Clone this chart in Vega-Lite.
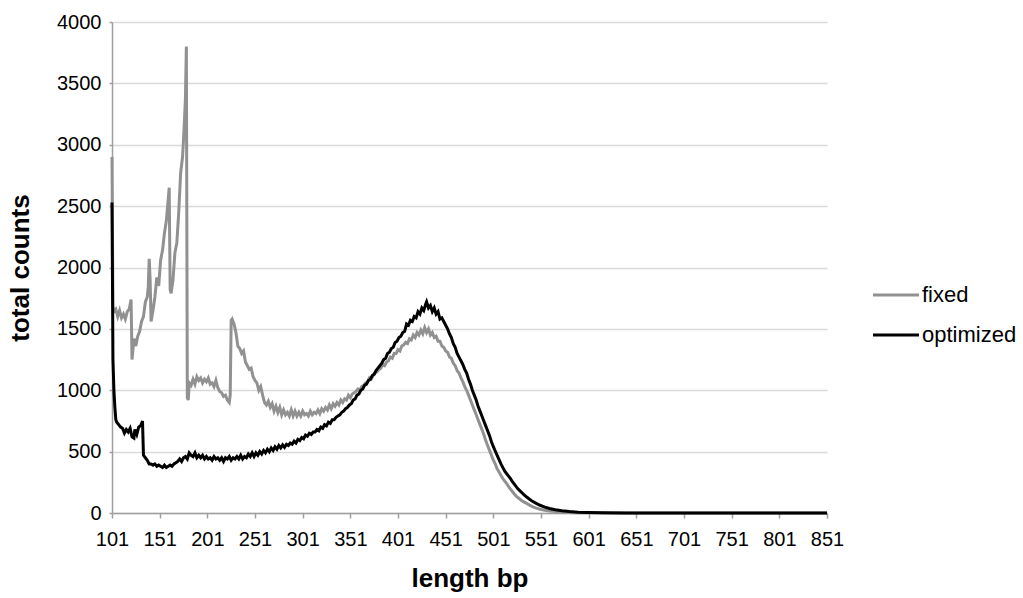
{
  "$schema": "https://vega.github.io/schema/vega-lite/v6.json",
  "width": 715,
  "height": 491,
  "autosize": "none",
  "padding": {"left": 112, "top": 22, "right": 196, "bottom": 85},
  "background": "white",
  "config": {
    "view": {"stroke": null},
    "font": "Liberation Sans",
    "axis": {"labelFont": "Liberation Sans", "titleFont": "Liberation Sans", "labelColor": "#000000", "titleColor": "#000000", "labelFontSize": 20, "titleFontSize": 26, "titleFontWeight": "bold", "domainColor": "#9e9e9e", "domainWidth": 1.5, "tickColor": "#9e9e9e", "tickWidth": 1.5, "gridColor": "#d9d9d9", "gridWidth": 1.5, "labelFlush": false, "labelOverlap": false, "labelBound": false},
    "legend": {"labelFont": "Liberation Sans", "labelFontSize": 22, "labelColor": "#000000"}
  },
  "datasets": {
    "fixed": [
      {"x":101,"y":2900},{"x":102,"y":1690},{"x":103,"y":1640},{"x":105,"y":1660},{"x":107,"y":1600},{"x":109,"y":1650},{"x":111,"y":1590},{"x":113,"y":1620},{"x":115,"y":1580},{"x":117,"y":1640},{"x":119,"y":1660},{"x":121,"y":1740},{"x":122,"y":1250},{"x":124,"y":1420},{"x":126,"y":1360},{"x":128,"y":1440},{"x":130,"y":1480},{"x":132,"y":1560},{"x":134,"y":1600},{"x":136,"y":1720},{"x":138,"y":1760},{"x":139,"y":1840},{"x":140,"y":2070},{"x":141,"y":1900},{"x":142,"y":1560},{"x":144,"y":1650},{"x":146,"y":1760},{"x":148,"y":1920},{"x":150,"y":1850},{"x":152,"y":2060},{"x":154,"y":2140},{"x":156,"y":2280},{"x":158,"y":2380},{"x":160,"y":2560},{"x":161,"y":2650},{"x":162,"y":1820},{"x":163,"y":1790},{"x":165,"y":1900},{"x":167,"y":2120},{"x":169,"y":2200},{"x":171,"y":2450},{"x":173,"y":2770},{"x":175,"y":2900},{"x":176,"y":3040},{"x":177,"y":3200},{"x":178,"y":3370},{"x":179,"y":3800},{"x":180,"y":940},{"x":181,"y":920},{"x":182,"y":1060},{"x":184,"y":1040},{"x":186,"y":1090},{"x":188,"y":1050},{"x":190,"y":1110},{"x":192,"y":1080},{"x":194,"y":1100},{"x":196,"y":1060},{"x":198,"y":1090},{"x":200,"y":1070},{"x":202,"y":1100},{"x":204,"y":1050},{"x":206,"y":1060},{"x":208,"y":1030},{"x":210,"y":1080},{"x":212,"y":1020},{"x":214,"y":990},{"x":216,"y":980},{"x":218,"y":950},{"x":220,"y":960},{"x":222,"y":920},{"x":224,"y":900},{"x":225,"y":960},{"x":226,"y":1570},{"x":227,"y":1580},{"x":229,"y":1540},{"x":231,"y":1470},{"x":233,"y":1360},{"x":235,"y":1340},{"x":237,"y":1300},{"x":239,"y":1320},{"x":241,"y":1230},{"x":243,"y":1200},{"x":245,"y":1170},{"x":247,"y":1180},{"x":249,"y":1110},{"x":251,"y":1080},{"x":253,"y":1060},{"x":255,"y":1000},{"x":257,"y":1030},{"x":259,"y":960},{"x":261,"y":900},{"x":263,"y":880},{"x":265,"y":910},{"x":267,"y":860},{"x":269,"y":890},{"x":271,"y":830},{"x":273,"y":870},{"x":275,"y":820},{"x":277,"y":860},{"x":279,"y":800},{"x":281,"y":840},{"x":283,"y":800},{"x":285,"y":820},{"x":287,"y":790},{"x":289,"y":840},{"x":291,"y":790},{"x":293,"y":830},{"x":295,"y":790},{"x":297,"y":820},{"x":299,"y":790},{"x":301,"y":830},{"x":303,"y":800},{"x":305,"y":810},{"x":307,"y":790},{"x":309,"y":830},{"x":311,"y":800},{"x":313,"y":820},{"x":315,"y":810},{"x":317,"y":840},{"x":319,"y":810},{"x":321,"y":850},{"x":323,"y":830},{"x":325,"y":860},{"x":327,"y":840},{"x":329,"y":880},{"x":331,"y":850},{"x":333,"y":890},{"x":335,"y":870},{"x":337,"y":900},{"x":339,"y":880},{"x":341,"y":920},{"x":343,"y":900},{"x":345,"y":930},{"x":347,"y":920},{"x":349,"y":960},{"x":351,"y":940},{"x":353,"y":970},{"x":355,"y":980},{"x":357,"y":990},{"x":359,"y":1010},{"x":361,"y":1000},{"x":363,"y":1030},{"x":365,"y":1040},{"x":367,"y":1060},{"x":369,"y":1070},{"x":371,"y":1100},{"x":373,"y":1090},{"x":375,"y":1120},{"x":377,"y":1140},{"x":379,"y":1150},{"x":381,"y":1170},{"x":383,"y":1180},{"x":385,"y":1210},{"x":387,"y":1200},{"x":389,"y":1230},{"x":391,"y":1240},{"x":393,"y":1270},{"x":395,"y":1260},{"x":397,"y":1300},{"x":399,"y":1300},{"x":401,"y":1330},{"x":403,"y":1320},{"x":405,"y":1360},{"x":407,"y":1370},{"x":409,"y":1390},{"x":411,"y":1380},{"x":413,"y":1420},{"x":415,"y":1410},{"x":417,"y":1450},{"x":419,"y":1430},{"x":421,"y":1470},{"x":423,"y":1450},{"x":425,"y":1490},{"x":427,"y":1460},{"x":429,"y":1510},{"x":431,"y":1470},{"x":433,"y":1500},{"x":435,"y":1450},{"x":437,"y":1470},{"x":439,"y":1430},{"x":441,"y":1440},{"x":443,"y":1400},{"x":445,"y":1400},{"x":447,"y":1360},{"x":449,"y":1350},{"x":451,"y":1320},{"x":453,"y":1310},{"x":455,"y":1270},{"x":457,"y":1260},{"x":459,"y":1220},{"x":461,"y":1200},{"x":463,"y":1160},{"x":465,"y":1140},{"x":467,"y":1100},{"x":469,"y":1070},{"x":471,"y":1030},{"x":473,"y":1000},{"x":475,"y":960},{"x":477,"y":920},{"x":479,"y":880},{"x":481,"y":840},{"x":483,"y":800},{"x":485,"y":760},{"x":487,"y":720},{"x":489,"y":680},{"x":491,"y":640},{"x":493,"y":590},{"x":495,"y":550},{"x":497,"y":510},{"x":499,"y":470},{"x":501,"y":430},{"x":503,"y":400},{"x":505,"y":360},{"x":507,"y":335},{"x":509,"y":305},{"x":511,"y":280},{"x":513,"y":260},{"x":515,"y":240},{"x":517,"y":215},{"x":519,"y":195},{"x":521,"y":175},{"x":523,"y":155},{"x":525,"y":138},{"x":527,"y":124},{"x":529,"y":112},{"x":531,"y":100},{"x":533,"y":90},{"x":536,"y":78},{"x":539,"y":64},{"x":542,"y":52},{"x":546,"y":40},{"x":550,"y":31},{"x":555,"y":23},{"x":560,"y":17},{"x":566,"y":12},{"x":573,"y":8},{"x":581,"y":5},{"x":590,"y":3},{"x":605,"y":2},{"x":625,"y":1},{"x":660,"y":0},{"x":851,"y":0}
    ],
    "optimized": [
      {"x":101,"y":2530},{"x":102,"y":1250},{"x":103,"y":1000},{"x":104,"y":860},{"x":105,"y":760},{"x":106,"y":740},{"x":108,"y":720},{"x":110,"y":700},{"x":112,"y":690},{"x":114,"y":650},{"x":116,"y":680},{"x":118,"y":660},{"x":120,"y":690},{"x":122,"y":620},{"x":124,"y":610},{"x":125,"y":680},{"x":127,"y":640},{"x":129,"y":700},{"x":131,"y":710},{"x":133,"y":750},{"x":134,"y":470},{"x":136,"y":450},{"x":138,"y":430},{"x":140,"y":400},{"x":142,"y":400},{"x":144,"y":390},{"x":146,"y":400},{"x":148,"y":380},{"x":150,"y":390},{"x":152,"y":380},{"x":154,"y":370},{"x":156,"y":390},{"x":158,"y":370},{"x":160,"y":380},{"x":162,"y":390},{"x":164,"y":380},{"x":166,"y":400},{"x":168,"y":410},{"x":170,"y":420},{"x":172,"y":440},{"x":174,"y":420},{"x":176,"y":450},{"x":178,"y":460},{"x":180,"y":440},{"x":182,"y":490},{"x":184,"y":470},{"x":186,"y":460},{"x":188,"y":490},{"x":190,"y":450},{"x":192,"y":470},{"x":194,"y":450},{"x":196,"y":470},{"x":198,"y":440},{"x":200,"y":460},{"x":202,"y":440},{"x":204,"y":450},{"x":206,"y":430},{"x":208,"y":460},{"x":210,"y":440},{"x":212,"y":450},{"x":214,"y":430},{"x":216,"y":450},{"x":218,"y":420},{"x":220,"y":450},{"x":222,"y":440},{"x":224,"y":460},{"x":226,"y":430},{"x":228,"y":450},{"x":230,"y":440},{"x":232,"y":460},{"x":234,"y":440},{"x":236,"y":470},{"x":238,"y":440},{"x":240,"y":460},{"x":242,"y":450},{"x":244,"y":480},{"x":246,"y":460},{"x":248,"y":490},{"x":250,"y":460},{"x":252,"y":490},{"x":254,"y":470},{"x":256,"y":500},{"x":258,"y":480},{"x":260,"y":510},{"x":262,"y":490},{"x":264,"y":520},{"x":266,"y":500},{"x":268,"y":530},{"x":270,"y":510},{"x":272,"y":540},{"x":274,"y":520},{"x":276,"y":550},{"x":278,"y":530},{"x":280,"y":555},{"x":282,"y":535},{"x":284,"y":560},{"x":286,"y":550},{"x":288,"y":570},{"x":290,"y":560},{"x":292,"y":585},{"x":294,"y":570},{"x":296,"y":600},{"x":298,"y":590},{"x":300,"y":615},{"x":302,"y":605},{"x":304,"y":635},{"x":306,"y":625},{"x":308,"y":650},{"x":310,"y":640},{"x":312,"y":660},{"x":314,"y":660},{"x":316,"y":680},{"x":318,"y":670},{"x":320,"y":700},{"x":322,"y":690},{"x":324,"y":720},{"x":326,"y":710},{"x":328,"y":740},{"x":330,"y":730},{"x":332,"y":760},{"x":334,"y":760},{"x":336,"y":780},{"x":338,"y":790},{"x":340,"y":800},{"x":342,"y":820},{"x":344,"y":830},{"x":346,"y":850},{"x":348,"y":860},{"x":350,"y":880},{"x":352,"y":890},{"x":354,"y":920},{"x":356,"y":930},{"x":358,"y":960},{"x":360,"y":970},{"x":362,"y":1000},{"x":364,"y":1010},{"x":366,"y":1040},{"x":368,"y":1050},{"x":370,"y":1080},{"x":372,"y":1090},{"x":374,"y":1120},{"x":376,"y":1130},{"x":378,"y":1160},{"x":380,"y":1180},{"x":382,"y":1200},{"x":384,"y":1220},{"x":386,"y":1250},{"x":388,"y":1260},{"x":390,"y":1300},{"x":392,"y":1310},{"x":394,"y":1340},{"x":396,"y":1350},{"x":398,"y":1390},{"x":400,"y":1400},{"x":402,"y":1430},{"x":404,"y":1440},{"x":406,"y":1470},{"x":408,"y":1480},{"x":410,"y":1540},{"x":412,"y":1530},{"x":414,"y":1570},{"x":416,"y":1560},{"x":418,"y":1600},{"x":420,"y":1590},{"x":422,"y":1640},{"x":424,"y":1620},{"x":426,"y":1670},{"x":428,"y":1650},{"x":430,"y":1700},{"x":431,"y":1720},{"x":433,"y":1670},{"x":435,"y":1690},{"x":437,"y":1640},{"x":439,"y":1670},{"x":441,"y":1620},{"x":443,"y":1640},{"x":445,"y":1580},{"x":447,"y":1590},{"x":449,"y":1560},{"x":451,"y":1530},{"x":453,"y":1500},{"x":455,"y":1460},{"x":457,"y":1430},{"x":459,"y":1380},{"x":461,"y":1350},{"x":463,"y":1300},{"x":465,"y":1270},{"x":467,"y":1240},{"x":469,"y":1210},{"x":471,"y":1170},{"x":473,"y":1140},{"x":475,"y":1090},{"x":477,"y":1050},{"x":479,"y":1000},{"x":481,"y":960},{"x":483,"y":920},{"x":485,"y":870},{"x":487,"y":830},{"x":489,"y":790},{"x":491,"y":750},{"x":493,"y":710},{"x":495,"y":670},{"x":497,"y":630},{"x":499,"y":580},{"x":501,"y":540},{"x":503,"y":505},{"x":505,"y":470},{"x":507,"y":435},{"x":509,"y":400},{"x":511,"y":370},{"x":513,"y":340},{"x":515,"y":320},{"x":517,"y":300},{"x":519,"y":280},{"x":521,"y":255},{"x":523,"y":235},{"x":525,"y":215},{"x":527,"y":195},{"x":529,"y":180},{"x":531,"y":165},{"x":533,"y":150},{"x":536,"y":130},{"x":539,"y":112},{"x":542,"y":95},{"x":546,"y":78},{"x":550,"y":63},{"x":555,"y":48},{"x":560,"y":37},{"x":566,"y":27},{"x":573,"y":18},{"x":581,"y":12},{"x":590,"y":7},{"x":600,"y":4},{"x":615,"y":2},{"x":640,"y":1},{"x":700,"y":0},{"x":851,"y":0}
    ]
  },
  "encoding": {
    "x": {"field": "x", "type": "quantitative", "scale": {"domain": [101, 851], "nice": false, "zero": false},
      "axis": {"values": [101,151,201,251,301,351,401,451,501,551,601,651,701,751,801,851], "format": "d", "grid": false, "tickSize": 5, "labelPadding": 11, "title": "length bp", "titleX": 357.5, "titleY": 65, "titleBaseline": "middle"}},
    "y": {"field": "y", "type": "quantitative", "scale": {"domain": [0, 4000], "nice": false},
      "axis": {"values": [0,500,1000,1500,2000,2500,3000,3500,4000], "format": "d", "grid": true, "tickSize": 3, "labelPadding": 8, "title": "total counts", "titleX": -92, "titleY": 245.5, "titleAngle": 270, "titleBaseline": "middle", "titleAlign": "center"}},
    "color": {"datum": "fixed", "type": "nominal",
      "scale": {"domain": ["fixed", "optimized"], "range": ["#919191", "#000000"]},
      "legend": {"title": null, "orient": "none", "legendX": 771, "legendY": 260, "padding": 0, "symbolType": "M-2,0H2", "symbolSize": 529, "symbolStrokeWidth": 3, "labelOffset": 13, "rowPadding": 16}}
  },
  "layer": [
    {"data": {"name": "fixed"}, "mark": {"type": "line", "strokeWidth": 3, "interpolate": "linear"}},
    {"data": {"name": "optimized"}, "mark": {"type": "line", "strokeWidth": 3, "interpolate": "linear"}, "encoding": {"color": {"datum": "optimized", "type": "nominal"}}}
  ]
}
